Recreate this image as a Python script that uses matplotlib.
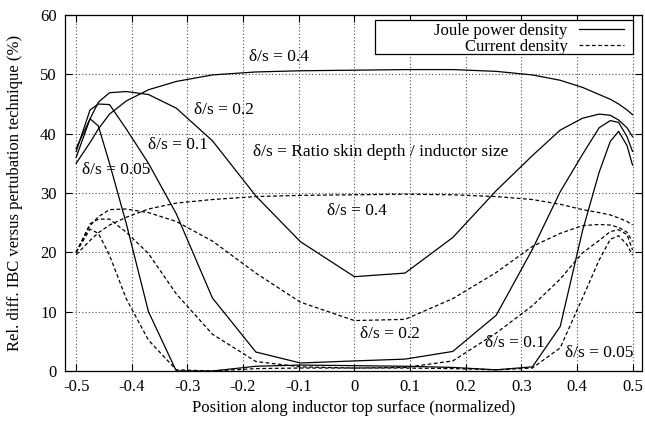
#!/usr/bin/env python3
"""Relative difference IBC vs perturbation technique along the inductor top surface."""

import matplotlib

matplotlib.use("Agg")
import matplotlib.pyplot as plt  # noqa: E402
from matplotlib.patches import Rectangle  # noqa: E402

# Sampling positions along the surface (normalized)
X = [-0.5, -0.475, -0.46, -0.44, -0.41, -0.37, -0.32, -0.255, -0.177, -0.097,
     0.0, 0.091, 0.177, 0.255, 0.32, 0.37, 0.41, 0.44, 0.46, 0.475, 0.49, 0.5]

# Joule power density, one series per delta/s
JOULE_04 = [35.0, 38.5, 40.8, 43.3, 45.5, 47.4, 48.8, 49.9, 50.4, 50.6, 50.7,
            50.8, 50.8, 50.5, 49.9, 49.0, 47.8, 46.6, 45.8, 45.0, 44.0, 43.2]
JOULE_02 = [36.0, 42.5, 45.3, 46.9, 47.1, 46.6, 44.3, 38.8, 29.5, 21.8, 15.9,
            16.5, 22.5, 30.4, 36.3, 40.6, 42.6, 43.3, 43.1, 42.3, 41.0, 39.5]
JOULE_01 = [37.0, 44.0, 45.0, 44.9, 40.8, 35.0, 26.5, 12.3, 3.2, 1.35, 1.7,
            2.0, 3.3, 9.4, 20.5, 30.2, 36.5, 41.0, 42.2, 41.9, 39.5, 37.0]
JOULE_005 = [37.5, 42.5, 41.3, 35.0, 24.9, 10.0, 0.0, 0.0, 0.8, 1.0, 0.9,
             0.8, 0.6, 0.2, 0.7, 7.5, 23.6, 33.5, 38.7, 40.4, 38.0, 34.7]

# Current density
CURR_04 = [19.6, 22.0, 23.3, 24.6, 25.9, 27.3, 28.3, 28.9, 29.4, 29.6, 29.7,
           29.8, 29.7, 29.4, 28.9, 28.1, 27.2, 26.7, 26.3, 25.8, 25.2, 24.6]
CURR_02 = [20.0, 24.5, 26.0, 27.2, 27.3, 26.7, 25.2, 21.9, 16.5, 11.6, 8.5,
           8.7, 12.2, 16.6, 21.0, 23.2, 24.5, 24.7, 24.6, 24.2, 23.4, 21.8]
CURR_01 = [20.0, 24.8, 25.6, 25.6, 23.4, 19.8, 13.0, 6.2, 1.6, 0.7, 0.5,
           0.6, 1.7, 6.4, 11.0, 15.5, 19.9, 22.0, 23.5, 23.8, 23.0, 20.4]
CURR_005 = [20.0, 23.9, 23.2, 19.5, 12.2, 5.2, 0.2, 0.0, 0.4, 0.5, 0.5,
            0.5, 0.4, 0.2, 0.5, 3.9, 12.3, 18.7, 22.2, 22.8, 21.3, 19.5]

XTICKS = [-0.5, -0.4, -0.3, -0.2, -0.1, 0.0, 0.1, 0.2, 0.3, 0.4, 0.5]
XTICK_LABELS = ["-0.5", "-0.4", "-0.3", "-0.2", "-0.1", "0",
                "0.1", "0.2", "0.3", "0.4", "0.5"]
YTICKS = [0, 10, 20, 30, 40, 50, 60]

# (text, x, y) in data coordinates, left aligned, vertically centred
LABELS = [
    ("δ/s = 0.4", -0.19, 53.0),
    ("δ/s = 0.2", -0.289, 44.0),
    ("δ/s = 0.1", -0.37, 38.1),
    ("δ/s = 0.05", -0.49, 33.9),
    ("δ/s = Ratio skin depth / inductor size", -0.182, 36.9),
    ("δ/s = 0.4", -0.05, 26.9),
    ("δ/s = 0.2", 0.01, 6.2),
    ("δ/s = 0.1", 0.234, 4.8),
    ("δ/s = 0.05", 0.378, 3.0),
]

plt.rcParams["font.family"] = ["Liberation Serif", "DejaVu Serif"]
plt.rcParams["font.size"] = 12

fig = plt.figure(figsize=(6.45, 4.21), dpi=100)
ax = fig.add_axes([65 / 645, 50 / 421, 577 / 645, 356 / 421])

solid = dict(color="black", lw=0.9)
dashed = dict(color="black", lw=0.9, ls=(0, (3, 2)))

ax.plot(X, JOULE_04, label="Joule power density", **solid)
ax.plot(X, JOULE_02, **solid)
ax.plot(X, JOULE_01, **solid)
ax.plot(X, JOULE_005, **solid)
ax.plot(X, CURR_04, label="Current density", **dashed)
ax.plot(X, CURR_02, **dashed)
ax.plot(X, CURR_01, **dashed)
ax.plot(X, CURR_005, **dashed)

for text, tx, ty in LABELS:
    ax.text(tx, ty, text, ha="left", va="center", fontsize=12.5)

ax.set_xlim(-0.52, 0.517)
ax.set_ylim(0, 60)
ax.set_xticks(XTICKS)
ax.set_xticklabels(XTICK_LABELS)
ax.set_yticks(YTICKS)
ax.tick_params(direction="in", top=True, right=True, length=5, width=0.8,
               labelsize=12, pad=6)
ax.grid(True, color="0.3", lw=0.8, ls=(0, (1, 2)))
for sp in ax.spines.values():
    sp.set_linewidth(0.9)

ax.set_xlabel("Position along inductor top surface (normalized)", fontsize=12,
              labelpad=3)
ax.set_ylabel("Rel. diff. IBC versus pertubation technique (%)", fontsize=12,
              labelpad=12)

# gnuplot-style key: text right-aligned, sample to the right, wide box
ax.add_patch(Rectangle((0.537, 0.890), 0.447, 0.096, transform=ax.transAxes,
                       facecolor="white", edgecolor="black", lw=0.9, zorder=4))
leg = ax.legend(loc="upper right", bbox_to_anchor=(0.969, 0.977),
                markerfirst=False, frameon=False, fontsize=12,
                handlelength=2.7, borderaxespad=0.0, labelspacing=0.0,
                borderpad=0.0, handletextpad=0.7)
leg.set_zorder(5)
for t in leg.get_texts():
    t.set_ha("right")

fig.savefig("out.png", dpi=100)
